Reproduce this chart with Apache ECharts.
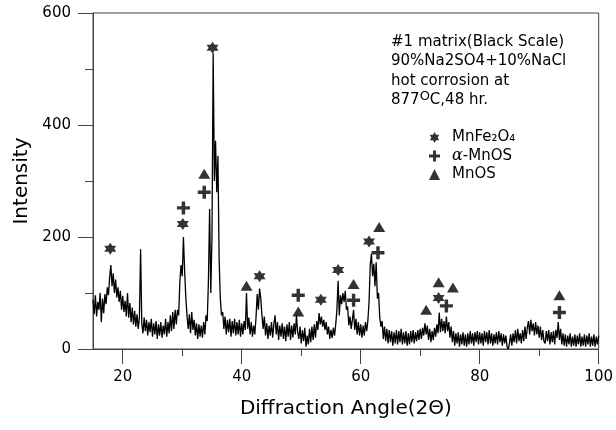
<!DOCTYPE html>
<html>
<head>
<meta charset="utf-8">
<script src="https://cdn.jsdelivr.net/npm/echarts@6/dist/echarts.min.js"></script>
<style>
  html, body { margin: 0; padding: 0; background: #fff; }
  #chart-container { width: 616px; height: 430px; }
</style>
</head>
<body>
<div id="chart-container"></div>
<script>
// scan: first angle, step (deg 2-theta), intensity
var angleStart = 15;
var angleStep = 0.2;
var intensity = [
  88, 62, 96, 58, 84, 70, 100, 48, 90, 64,       // 15
  98, 80, 110, 96, 128, 150, 112, 135, 100, 124, // 17
  92, 110, 84, 104, 70, 95, 66, 86, 58, 100,     // 19
  56, 82, 48, 74, 44, 68, 40, 62, 36, 56,        // 21
  178, 46, 28, 56, 32, 52, 24, 48, 30, 54,       // 23
  22, 46, 26, 50, 18, 44, 24, 48, 20, 42,        // 25
  26, 54, 22, 48, 28, 60, 32, 66, 36, 70,        // 27
  44, 70, 60, 120, 150, 130, 200, 140, 92, 60,   // 29
  36, 62, 28, 66, 34, 52, 24, 46, 18, 44,        // 31
  22, 42, 20, 48, 26, 60, 50, 120, 250, 100,     // 33
  200, 528, 300, 372, 280, 345, 160, 90, 60, 66, // 35
  36, 58, 26, 52, 30, 54, 22, 50, 28, 54,        // 37
  24, 48, 26, 52, 22, 46, 26, 50, 34, 100,       // 39
  36, 56, 26, 48, 22, 42, 26, 56, 98, 70,        // 41
  108, 90, 60, 36, 58, 24, 46, 18, 42, 24,       // 43
  48, 20, 44, 60, 26, 48, 16, 42, 22, 46,        // 45
  18, 40, 14, 44, 22, 48, 16, 42, 20, 46,        // 47
  26, 60, 30, 18, 40, 10, 34, 14, 38, 4,         // 49
  24, 8, 36, 12, 40, 16, 44, 20, 50, 34,         // 51
  64, 44, 58, 40, 52, 34, 48, 26, 40, 18,        // 53
  34, 20, 38, 24, 44, 70, 122, 60, 96, 80,       // 55
  100, 84, 104, 70, 76, 42, 58, 36, 52, 70,      // 57
  34, 54, 26, 48, 24, 44, 20, 42, 24, 48,        // 59
  32, 50, 84, 150, 170, 130, 152, 112, 155, 90,  // 61
  100, 56, 40, 50, 18, 40, 14, 36, 10, 34,       // 63
  12, 32, 6, 30, 10, 34, 8, 32, 12, 36,          // 65
  8, 30, 10, 32, 6, 28, 8, 32, 12, 34,           // 67
  10, 30, 14, 34, 16, 36, 18, 38, 24, 46,        // 69
  26, 42, 16, 36, 12, 32, 16, 38, 22, 44,        // 71
  28, 65, 30, 54, 32, 50, 28, 58, 32, 48,        // 73
  20, 40, 12, 32, 6, 28, 10, 30, 4, 26,          // 75
  8, 30, 6, 26, 4, 28, 8, 32, 10, 28,            // 77
  6, 30, 12, 32, 8, 30, 10, 28, 6, 32,           // 79
  12, 30, 8, 34, 10, 28, 6, 26, 10, 30,          // 81
  8, 32, 12, 28, 6, 26, 10, 24, 4, 0,            // 83
  10, 26, 6, 28, 12, 34, 10, 36, 14, 28,         // 85
  10, 34, 14, 40, 18, 38, 50, 26, 52, 32,        // 87
  46, 24, 48, 26, 42, 20, 40, 16, 34, 14,        // 89
  10, 32, 14, 34, 8, 30, 12, 32, 8, 34,          // 91
  20, 48, 16, 36, 8, 28, 6, 26, 4, 24,           // 93
  8, 28, 4, 22, 6, 26, 4, 24, 8, 28,             // 95
  4, 22, 6, 26, 4, 24, 8, 28, 4, 22,             // 97
  6, 26, 4, 22, 8, 24                            // 99
];

// peak markers
var starAngles = [17.9, 30.1, 35.1, 43.0, 53.3, 56.2, 61.4, 73.1];
var starHeights = [179, 223, 538, 130, 88, 141, 192, 91];
var plusAngles = [30.2, 33.7, 49.5, 58.8, 62.9, 74.4, 93.4];
var plusHeights = [252, 280, 96, 87, 172, 77, 65];
var triAngles = [33.7, 40.8, 49.5, 58.8, 63.1, 71.0, 73.1, 75.5, 93.4];
var triHeights = [313, 113, 67, 116, 218, 70, 119, 110, 96];

var xTicks = [20, 40, 60, 80, 100];
var xMinorTicks = [30, 50, 70, 90];

var phaseNames = ['MnFe\u2082O\u2084', '\u03b1-MnOS', 'MnOS'];

var starPath = 'path://M0,-10 L2.89,-5 L8.66,-5 L5.77,0 L8.66,5 L2.89,5 L0,10 L-2.89,5 L-8.66,5 L-5.77,0 L-8.66,-5 L-2.89,-5 Z';
var plusPath = 'path://M-1.6,-6 H1.6 V-1.6 H6 V1.6 H1.6 V6 H-1.6 V1.6 H-6 V-1.6 H-1.6 Z';

function pairs(xs, ys) {
  return xs.map(function (x, i) { return [x, ys[i]]; });
}

var scan = intensity.map(function (v, i) {
  return [+(angleStart + i * angleStep).toFixed(1), v];
});

var dom = document.getElementById('chart-container');
var myChart = echarts.init(dom, null, { renderer: 'canvas' });

var axisCol = '#444';
var font = 'DejaVu Sans';

var option = {
  animation: false,
  textStyle: { fontFamily: font, color: '#000' },
  title: {
    left: 386,
    top: 27,
    text: '#1 matrix(Black Scale)\n90%Na2SO4+10%NaCl\nhot corrosion at\n877{o|O}C,48 hr.',
    textStyle: {
      fontFamily: font,
      fontWeight: 'normal',
      fontSize: 15,
      lineHeight: 19.5,
      color: '#000',
      rich: {
        o: { fontSize: 13, verticalAlign: 'top', fontFamily: font, color: '#000' }
      }
    }
  },
  legend: {
    data: [
      { name: phaseNames[0], icon: starPath },
      { name: phaseNames[1], icon: plusPath },
      { name: phaseNames[2], icon: 'triangle' }
    ],
    orient: 'vertical',
    left: 424,
    top: 125,
    itemWidth: 11,
    itemHeight: 11,
    itemGap: 3,
    selectedMode: false,
    formatter: function (name) {
      return name === phaseNames[1] ? '{a|\u03b1}-MnOS' : name;
    },
    textStyle: {
      fontFamily: font,
      fontSize: 15,
      color: '#000',
      padding: [0, 0, 0, 7],
      rich: {
        a: { fontFamily: 'DejaVu Serif', fontStyle: 'italic', fontSize: 16, color: '#000' }
      }
    }
  },
  grid: {
    left: 93,
    right: 17,
    top: 13,
    bottom: 81,
    show: true,
    borderColor: axisCol,
    borderWidth: 1
  },
  xAxis: [
    {
      type: 'value',
      min: 15,
      max: 100,
      name: 'Diffraction Angle(2\u0398)',
      nameLocation: 'middle',
      nameGap: 50,
      nameTextStyle: { fontFamily: font, fontSize: 20, color: '#000' },
      axisLine: { show: true, lineStyle: { color: axisCol } },
      axisTick: { show: true, inside: false, length: 15, customValues: xTicks, lineStyle: { color: axisCol } },
      axisLabel: { show: true, margin: 21, fontSize: 15, color: '#000', customValues: xTicks },
      splitLine: { show: false }
    },
    {
      type: 'value',
      min: 15,
      max: 100,
      position: 'bottom',
      axisLine: { show: false },
      axisTick: { show: true, inside: false, length: 7, customValues: xMinorTicks, lineStyle: { color: axisCol } },
      axisLabel: { show: false },
      splitLine: { show: false }
    }
  ],
  yAxis: {
    type: 'value',
    min: 0,
    max: 600,
    interval: 200,
    name: 'Intensity',
    nameLocation: 'middle',
    nameRotate: 90,
    nameGap: 60,
    nameTextStyle: { fontFamily: font, fontSize: 20, color: '#000' },
    axisLine: { show: true, lineStyle: { color: axisCol } },
    axisTick: { show: true, inside: false, length: 15, lineStyle: { color: axisCol } },
    minorTick: { show: true, splitNumber: 2, length: 8, lineStyle: { color: axisCol } },
    axisLabel: { margin: 22, fontSize: 15, color: '#000' },
    splitLine: { show: false }
  },
  series: [
    {
      name: 'scan',
      type: 'line',
      data: scan,
      xAxisIndex: 0,
      symbol: 'none',
      lineStyle: { color: '#000', width: 1.3 },
      silent: true,
      z: 2
    },
    {
      name: phaseNames[0],
      type: 'scatter',
      data: pairs(starAngles, starHeights),
      symbol: starPath,
      symbolSize: 12,
      itemStyle: { color: '#000' },
      z: 3
    },
    {
      name: phaseNames[1],
      type: 'scatter',
      data: pairs(plusAngles, plusHeights),
      symbol: plusPath,
      symbolSize: 13,
      itemStyle: { color: '#000' },
      z: 3
    },
    {
      name: phaseNames[2],
      type: 'scatter',
      data: pairs(triAngles, triHeights),
      symbol: 'triangle',
      symbolSize: [12, 10],
      itemStyle: { color: '#000' },
      z: 3
    }
  ]
};

myChart.setOption(option);
window.addEventListener('resize', myChart.resize);
</script>
</body>
</html>
